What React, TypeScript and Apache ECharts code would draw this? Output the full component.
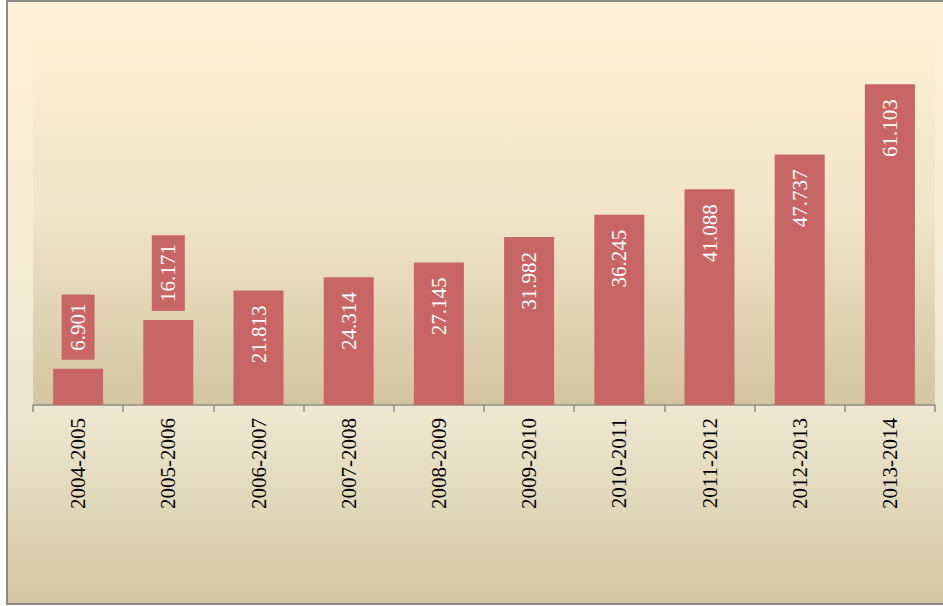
import React, { useEffect, useRef } from "react";
import * as echarts from "echarts";

const categories = [
  "2004-2005", "2005-2006", "2006-2007", "2007-2008", "2008-2009",
  "2009-2010", "2010-2011", "2011-2012", "2012-2013", "2013-2014",
];
const values = [6.901, 16.171, 21.813, 24.314, 27.145, 31.982, 36.245, 41.088, 47.737, 61.103];
const outsideLabelIndices = [0, 1];

const BAR = "#C86666";
const FONT = "'Liberation Serif', 'Times New Roman', serif";

export default function App() {
  const ref = useRef<HTMLDivElement>(null);
  useEffect(() => {
    if (!ref.current) return;
    const chart = echarts.init(ref.current, undefined, { renderer: "svg" });
    const insideLabel = {
      show: true,
      position: "insideTop",
      distance: 15,
      rotate: 90,
      align: "right",
      verticalAlign: "middle",
      color: "#ffffff",
      fontFamily: FONT,
      fontSize: 21,
      formatter: (p: any) => Number(p.value).toFixed(3),
    };
    const outsideLabel = {
      show: true,
      position: "top",
      distance: 9,
      rotate: 90,
      align: "left",
      verticalAlign: "middle",
      color: "#ffffff",
      fontFamily: FONT,
      fontSize: 21,
      lineHeight: 21,
      backgroundColor: BAR,
      padding: [6, 9, 6, 9],
      formatter: (p: any) => Number(p.value).toFixed(3),
    };
    chart.setOption({
      animation: false,
      grid: {
        left: 33,
        right: 8,
        top: 11.25,
        bottom: 201,
        show: true,
        borderWidth: 0,
        backgroundColor: new echarts.graphic.LinearGradient(0, 0, 0, 1, [
          { offset: 0, color: "#FEF0D4" },
          { offset: 0.5, color: "#F1E6C9" },
          { offset: 1, color: "#D3C5A1" },
        ]),
      },
      xAxis: {
        type: "category",
        data: categories,
        axisLine: { show: true, lineStyle: { color: "#8c8c8c", width: 1.5 } },
        axisTick: { show: true, length: 7, lineStyle: { color: "#8c8c8c", width: 1.5 } },
        axisLabel: {
          rotate: 90,
          margin: 13,
          color: "#000000",
          fontFamily: FONT,
          fontSize: 21,
          interval: 0,
        },
      },
      yAxis: {
        type: "value",
        min: 0,
        max: 75,
        show: false,
        splitLine: { show: false },
      },
      series: [
        {
          type: "bar",
          barWidth: 50,
          itemStyle: { color: BAR },
          data: values.map((v, i) => ({
            value: v,
            label: outsideLabelIndices.includes(i) ? outsideLabel : insideLabel,
          })),
        },
      ],
    });
    return () => chart.dispose();
  }, []);
  return (
    <div style={{ position: "fixed", left: 0, top: 0, width: 943, height: 606, overflow: "hidden" }}>
      <div
        style={{
          position: "absolute",
          left: 6,
          top: 0,
          width: 944,
          height: 601,
          border: "2.5px solid #8a8a8a",
          background: "linear-gradient(to bottom, #FEF0D5 0%, #F6ECD4 40%, #EEE8D2 68%, #D4C6A2 100%)",
        }}
      />
      <div ref={ref} style={{ position: "absolute", left: 0, top: 0, width: 943, height: 606 }} />
    </div>
  );
}
